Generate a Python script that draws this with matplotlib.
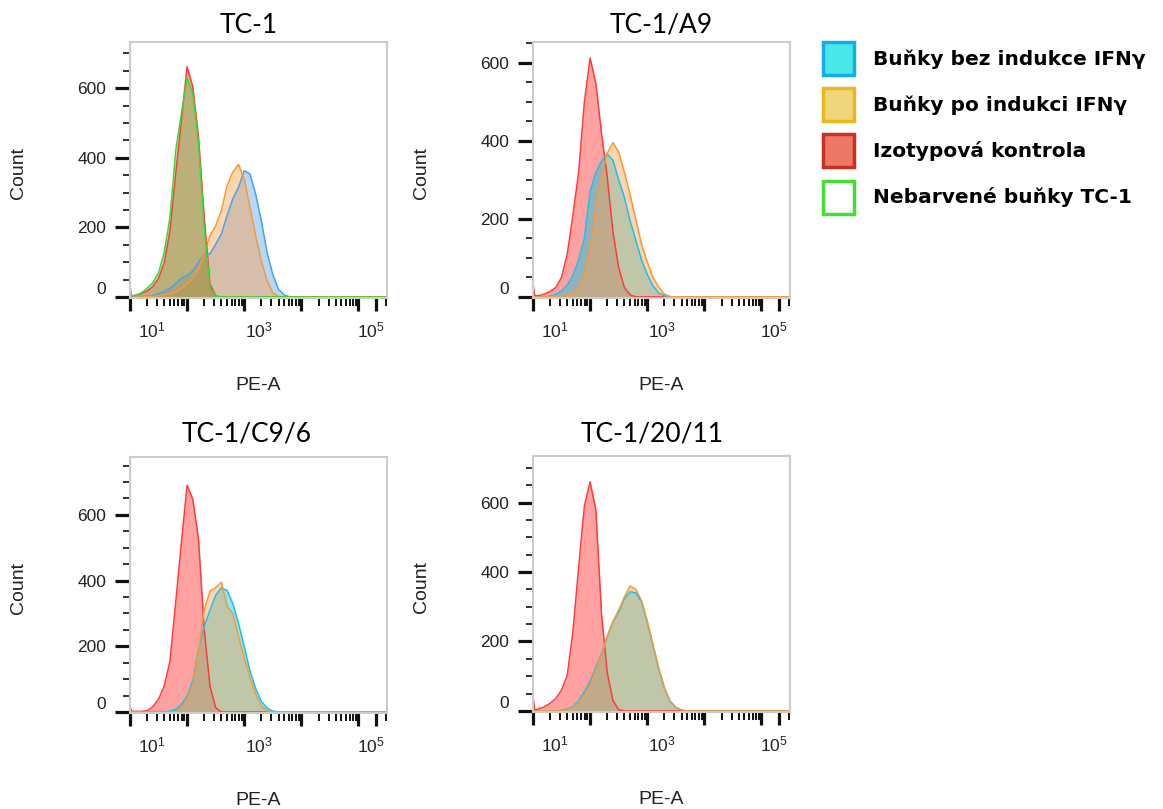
import numpy as np
import matplotlib.pyplot as plt
from matplotlib.patches import Patch

plt.rcParams['font.family'] = ['Liberation Sans', 'DejaVu Sans']
plt.rcParams['mathtext.fontset'] = 'custom'
plt.rcParams['mathtext.rm'] = 'Liberation Sans'

# PE-A channel, position in decades from the left edge of the axis (10^0)
decades = np.concatenate([[0.0, 0.03], np.round(np.arange(0.1, 3.85, 0.1), 1), [4.5]])

# --- TC-1 ---
tc1_blue = [0, 0, 0, 1, 2, 4, 10, 15, 25, 38, 54, 61, 75, 99, 125, 123, 152, 181, 234, 282,
            315, 363, 354, 296, 219, 128, 65, 22, 6, 0, 0, 0, 0, 0, 0, 0, 0, 0, 0, 0, 0]
tc1_orange = [0, 0, 0, 0, 1, 2, 4, 6, 10, 15, 25, 37, 54, 80, 128, 176, 205, 248, 320, 359,
              381, 339, 258, 176, 104, 46, 12, 2, 0, 0, 0, 0, 0, 0, 0, 0, 0, 0, 0, 0, 0]
tc1_red = [4, 3, 5, 10, 17, 30, 54, 99, 190, 354, 508, 662, 604, 459, 229, 37, 3, 0, 0, 0,
           0, 0, 0, 0, 0, 0, 0, 0, 0, 0, 0, 0, 0, 0, 0, 0, 0, 0, 0, 0, 0]
tc1_green = [32, 3, 4, 12, 25, 41, 70, 128, 229, 421, 527, 630, 585, 440, 200, 27, 1, 0, 0, 0,
             0, 0, 0, 0, 0, 0, 0, 0, 0, 0, 0, 0, 0, 0, 0, 0, 0, 0, 0, 0, 0]

# --- TC-1/A9 ---
a9_cyan = [0, 0, 0, 0, 2, 6, 15, 30, 55, 95, 150, 270, 318, 348, 366, 350, 300, 255, 195, 145,
           95, 58, 28, 10, 3, 0, 0, 0, 0, 0, 0, 0, 0, 0, 0, 0, 0, 0, 0, 0, 0]
a9_orange = [0, 0, 0, 0, 0, 1, 3, 6, 10, 24, 58, 125, 230, 310, 368, 395, 372, 320, 262, 198,
             135, 90, 50, 25, 7, 1, 0, 0, 0, 0, 0, 0, 0, 0, 0, 0, 0, 0, 0, 0, 0]
a9_red = [33, 3, 3, 7, 14, 24, 50, 110, 210, 320, 500, 612, 547, 419, 307, 166, 75, 24, 5, 0,
          0, 0, 0, 0, 0, 0, 0, 0, 0, 0, 0, 0, 0, 0, 0, 0, 0, 0, 0, 0, 0]

# --- TC-1/C9/6 ---
c96_cyan = [0, 0, 0, 0, 0, 0, 0, 0, 3, 8, 23, 49, 95, 190, 260, 310, 355, 378, 370, 330,
            270, 200, 125, 72, 32, 12, 3, 0, 0, 0, 0, 0, 0, 0, 0, 0, 0, 0, 0, 0, 0]
c96_orange = [0, 0, 0, 0, 0, 0, 0, 0, 0, 0, 13, 39, 85, 185, 312, 368, 378, 395, 322, 300,
              230, 165, 105, 55, 18, 4, 0, 0, 0, 0, 0, 0, 0, 0, 0, 0, 0, 0, 0, 0, 0]
c96_red = [16, 2, 2, 2, 4, 16, 39, 79, 155, 333, 515, 690, 647, 525, 250, 79, 13, 0, 0, 0,
           0, 0, 0, 0, 0, 0, 0, 0, 0, 0, 0, 0, 0, 0, 0, 0, 0, 0, 0, 0, 0]

# --- TC-1/20/11 ---
t2011_cyan = [0, 0, 0, 0, 0, 0, 2, 6, 12, 30, 55, 85, 125, 165, 213, 256, 285, 323, 343, 340,
              314, 256, 189, 122, 65, 27, 10, 3, 0, 0, 0, 0, 0, 0, 0, 0, 0, 0, 0, 0, 0]
t2011_orange = [0, 0, 0, 0, 0, 0, 0, 4, 10, 25, 46, 75, 118, 161, 215, 258, 290, 328, 360, 350,
                318, 260, 192, 125, 68, 29, 11, 3, 0, 0, 0, 0, 0, 0, 0, 0, 0, 0, 0, 0, 0]
t2011_red = [41, 3, 6, 12, 22, 36, 60, 103, 230, 415, 590, 660, 580, 280, 110, 30, 3, 0, 0, 0,
             0, 0, 0, 0, 0, 0, 0, 0, 0, 0, 0, 0, 0, 0, 0, 0, 0, 0, 0, 0, 0]

titles = ['TC-1', 'TC-1/A9', 'TC-1/C9/6', 'TC-1/20/11']
y_tops = [733, 653, 776, 734]
xtick_pos = [0.39, 2.26, 4.22]
xtick_text = [r'$\mathregular{10^{1}}$', r'$\mathregular{10^{3}}$', r'$\mathregular{10^{5}}$']

legend_labels = ['Buňky bez indukce IFNγ', 'Buňky po indukci IFNγ',
                 'Izotypová kontrola', 'Nebarvené buňky TC-1']

# (line colour, fill colour) per population
blue = ('#4aa0f0', '#61a8ef')
cyan = ('#1ec0f0', '#08cae0')
orange = ('#f59a3a', '#fba24f')
red = ('#ff3b3b', '#ff3030')
green = ('#33dd33', '#6bc44c')

panels = [
    dict(series=[(tc1_blue, blue), (tc1_orange, orange), (tc1_red, red), (tc1_green, green)],
         rect=[130, 42, 257, 256], title_x=0.46, pad=6.5),
    dict(series=[(a9_red, red), (a9_cyan, cyan), (a9_orange, orange)],
         rect=[533, 42, 257, 256], title_x=0.50, pad=6.5),
    dict(series=[(c96_red, red), (c96_cyan, cyan), (c96_orange, orange)],
         rect=[130, 457, 257, 256], title_x=0.455, pad=11),
    dict(series=[(t2011_red, red), (t2011_cyan, cyan), (t2011_orange, orange)],
         rect=[533, 456, 257, 256], title_x=0.463, pad=10.5),
]

W, H = 1163, 809
fig = plt.figure(figsize=(W / 100, H / 100), dpi=100)

x = 10 ** decades
major_x = [1, 10, 100, 1000, 10000, 20000]
minor_x = [m * 10 ** k for k in range(4) for m in range(2, 10)] + [30000]

for i, p in enumerate(panels):
    l, t, w, h = p['rect']
    ax = fig.add_axes([l / W, 1 - (t + h) / H, w / W, h / H])
    for vals, (lc, fc) in p['series']:
        ax.fill_between(x, vals, color=fc, alpha=0.45, lw=0)
    for vals, (lc, fc) in p['series']:
        ax.plot(x, vals, color=lc, lw=1.1)

    ax.set_xscale('log')
    ax.set_xlim(1, 10 ** 4.5)
    ax.set_ylim(-3, y_tops[i])

    ax.set_xticks(major_x)
    ax.set_xticks(minor_x, minor=True)
    ax.xaxis.set_major_formatter(plt.NullFormatter())
    ax.xaxis.set_minor_formatter(plt.NullFormatter())
    ax.tick_params(axis='x', which='major', length=9.5, width=2.3, color='#111')
    ax.tick_params(axis='x', which='minor', length=5.5, width=1.4, color='#111')

    ax.set_yticks(np.arange(0, 601, 200))
    ax.set_yticks(np.arange(0, y_tops[i], 50), minor=True)
    ax.tick_params(axis='y', which='major', length=11, width=2.3, color='#111',
                   labelsize=12.5, labelcolor='#222', pad=6)
    ax.tick_params(axis='y', which='minor', length=5, width=1.2, color='#111')
    for lab in ax.get_yticklabels():
        if lab.get_text() == '0':
            lab.set_va('bottom')

    sec = ax.secondary_xaxis('bottom')
    sec.set_xticks(10 ** np.array(xtick_pos), labels=xtick_text)
    sec.set_xticks([], minor=True)
    sec.tick_params(which='both', length=0, pad=16, labelsize=12.5, labelcolor='#222')
    sec.spines['bottom'].set_visible(False)

    for s in ax.spines.values():
        s.set_color('#cccccc')
        s.set_linewidth(1.5)

    ax.set_ylabel('Count', fontsize=14, color='#222')
    ax.yaxis.set_label_coords(-0.40, 0.49)
    ax.set_xlabel('PE-A', fontsize=14, color='#222')
    ax.xaxis.set_label_coords(0.5, -0.31)
    ax.set_title(titles[i], family='Lato', fontsize=19, x=p['title_x'], pad=p['pad'])

handles = [
    Patch(facecolor='#4ae8e8', edgecolor='#12aee8', lw=2.5),
    Patch(facecolor='#f0d67a', edgecolor='#e8b820', lw=2.5),
    Patch(facecolor='#ee7868', edgecolor='#c83020', lw=2.5),
    Patch(facecolor='white', edgecolor='#44dd33', lw=2.5),
]
fig.legend(handles, legend_labels, loc='upper left', bbox_to_anchor=(823 / W, 1 - 42 / H),
           frameon=False, borderpad=0, borderaxespad=0, handlelength=1.54, handleheight=2.15,
           handletextpad=0.95, labelspacing=0.65,
           prop=dict(family='DejaVu Sans', weight='bold', size=14.5))

fig.savefig('out.png', dpi=100)
